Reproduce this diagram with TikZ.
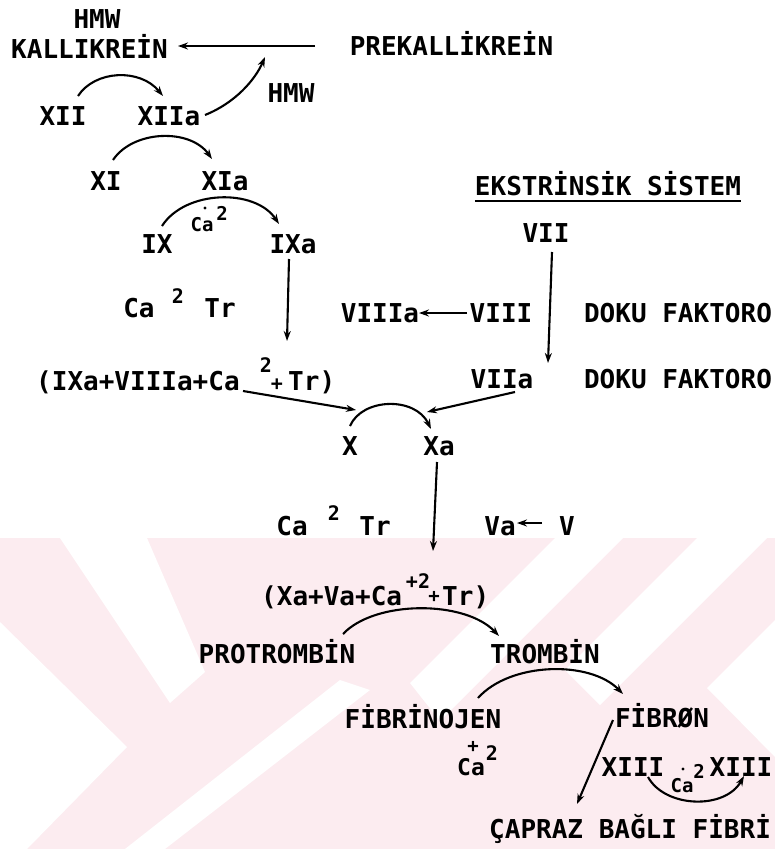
\documentclass[tikz,border=0pt]{standalone}
\usepackage{fontspec}
\usetikzlibrary{arrows.meta,calc}
\newfontfamily\tw{DejaVu Sans Mono}
\definecolor{wm}{RGB}{252,236,240}
\begin{document}
\begin{tikzpicture}[x=1pt,y=-1pt,
  lbl/.style={inner sep=0pt, anchor=base, font=\tw\bfseries\fontsize{26}{30}\selectfont},
  sup/.style={inner sep=0pt, anchor=base, font=\tw\bfseries\fontsize{20}{22}\selectfont},
  sml/.style={inner sep=0pt, anchor=base, font=\tw\bfseries\fontsize{19}{20}\selectfont},
  con/.style={line width=2.1pt, -{Stealth[length=10pt,width=7pt]}},
  ln/.style={line width=2.1pt}]
\useasboundingbox (0,0) rectangle (775,849);
% watermark
\fill[wm] (0,538) rectangle (775,849);
\fill[white] (60,538) -- (147,538) -- (205,672) -- (170,703) -- cycle;
\fill[white] (0,622) -- (127,747) -- (27,849) -- (0,849) -- cycle;
\fill[white] (125,849) -- (165,849) -- (370,690) -- (340,680) -- cycle;
\fill[white] (555,538) -- (623,538) -- (440,721) -- (410,683) -- cycle;
\fill[white] (697,538) -- (767,538) -- (600,705) -- (565,670) -- cycle;
\fill[white] (775,620) -- (707,688) -- (775,757) -- cycle;

% labels
\node[lbl] (hmw1) at (97,28) {HMW};
\node[lbl] (kal) at (89.5,58) {KALLIKREİN};
\node[lbl] (prek) at (451.5,55) {PREKALLİKREİN};
\node[lbl] (hmw2) at (291,102) {HMW};
\node[lbl] (xii) at (63,125) {XII};
\node[lbl] (xiia) at (169,125) {XIIa};
\node[lbl] (xi) at (106,190) {XI};
\node[lbl] (xia) at (225,190) {XIa};
\node[lbl] (ix) at (157,253) {IX};
\node[lbl] (ixa) at (293,253) {IXa};
\node[sml] (ca1) at (202,231) {Ca};
\node[sml] (ca1s) at (222,220) {2};
\fill (205,208) circle (1.6pt);
\node[lbl] (eks) at (608,195) {EKSTRİNSİK SİSTEM};
\draw[line width=1.4pt] (eks.base west) ++(0,6) coordinate (ul1) -- ($(eks.base east)+(0,6)$) coordinate (ul2);
\node[lbl] (vii) at (546,242) {VII};
\node[lbl] (ca2) at (139,317) {Ca};
\node[sup] (ca2s) at (178,303) {2};
\node[lbl] (tr2) at (220,317) {Tr};
\node[lbl] (viiia) at (380,322) {VIIIa};
\node[lbl] (viii) at (501,322) {VIII};
\node[lbl] (doku1) at (678,322) {DOKU FAKTORO};
\node[lbl, anchor=base west] (cx1) at (36,390) {(IXa+VIIIa+Ca};
\node[sup] (cx1s) at (266,372) {2};
\node[sup] (cx1p) at (277,390) {+};
\node[lbl, anchor=base west] (cx1t) at (288,390) {Tr)};
\node[lbl] (viia) at (502,388) {VIIa};
\node[lbl] (doku2) at (678,388) {DOKU FAKTORO};
\node[lbl] (x) at (350,455) {X};
\node[lbl] (xa) at (439,455) {Xa};
\node[lbl] (ca3) at (292,535) {Ca};
\node[sup] (ca3s) at (334,520) {2};
\node[lbl] (tr3) at (375,535) {Tr};
\node[lbl] (va) at (500,535) {Va};
\node[lbl] (v) at (567,535) {V};
\node[lbl, anchor=base west] (cx2) at (261,605) {(Xa+Va+Ca};
\node[sup] (cx2s) at (418,588) {+2};
\node[sml] (cx2p) at (434,602) {+};
\node[lbl, anchor=base west] (cx2t) at (442,605) {Tr)};
\node[lbl] (prot) at (277,663) {PROTROMBİN};
\node[lbl] (trom) at (545,663) {TROMBİN};
\node[lbl] (fibj) at (423,728) {FİBRİNOJEN};
\node[lbl] (fibr) at (662,727) {FİBRØN};
\node[sup, font=\tw\bfseries\fontsize{23}{24}\selectfont] (ca4) at (471,775) {Ca};
\node[sml] (ca4p) at (473,752) {+};
\node[sup] (ca4s) at (492,760) {2};
\node[lbl] (xiii1) at (633,776) {XIII};
\node[sml] (ca5) at (682,792) {Ca};
\fill (683,769) circle (1.6pt);
\node[sml] (ca5s) at (699,778) {2};
\node[lbl] (xiii2) at (741,776) {XIII};
\node[lbl, anchor=base west] (capr) at (489,838) {ÇAPRAZ BAĞLI FİBRİ};

% connector end points
\coordinate (a1) at (315,46); \coordinate (a2) at (178,46);
\coordinate (b1) at (205,115); \coordinate (b2) at (265,57);
\coordinate (c1) at (78,96); \coordinate (c2) at (163,96);
\coordinate (d1) at (113,160); \coordinate (d2) at (212,159);
\coordinate (e1) at (162,226); \coordinate (e2) at (279,224);
\coordinate (f1) at (289,259); \coordinate (f2) at (287,341);
\coordinate (g1) at (552,252); \coordinate (g2) at (548,363);
\coordinate (h1) at (467,313); \coordinate (h2) at (419,313);
\coordinate (i1) at (243,391); \coordinate (i2) at (356,410);
\coordinate (j1) at (515,392); \coordinate (j2) at (427,412);
\coordinate (k1) at (350,426); \coordinate (k2) at (431,429);
\coordinate (l1) at (437,462); \coordinate (l2) at (433,551);
\coordinate (m1) at (542,523); \coordinate (m2) at (517,523);
\coordinate (n1) at (343,634); \coordinate (n2) at (499,636);
\coordinate (o1) at (478,698); \coordinate (o2) at (623,694);
\coordinate (p1) at (613,720); \coordinate (p2) at (577,804);
\coordinate (q1) at (648,777); \coordinate (q2) at (744,776);

% connectors
\draw[con] (a1) -- (a2);
\draw[con] (b1) .. controls (235,103) and (255,80) .. (b2);
\draw[con] (c1) .. controls (95,70) and (140,68) .. (c2);
\draw[con] (d1) .. controls (133,130) and (190,128) .. (d2);
\draw[con] (e1) .. controls (185,190) and (255,188) .. (e2);
\draw[con] (f1) -- (f2);
\draw[con] (g1) -- (g2);
\draw[con] (h1) -- (h2);
\draw[con] (i1) -- (i2);
\draw[con] (j1) -- (j2);
\draw[con] (k1) .. controls (362,398) and (415,396) .. (k2);
\draw[con] (l1) -- (l2);
\draw[con] (m1) -- (m2);
\draw[con] (n1) .. controls (375,600) and (465,600) .. (n2);
\draw[con] (o1) .. controls (510,662) and (590,660) .. (o2);
\draw[con] (p1) -- (p2);
\draw[con] (q1) .. controls (665,808) and (725,810) .. (q2);
\end{tikzpicture}
\end{document}
